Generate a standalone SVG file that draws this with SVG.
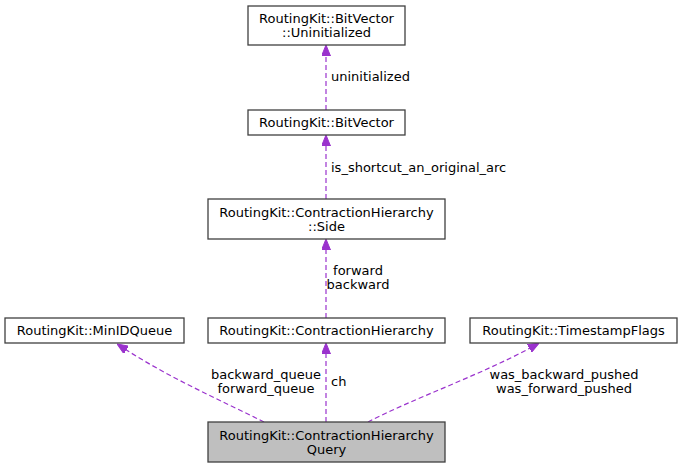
<svg xmlns="http://www.w3.org/2000/svg" width="681" height="468" viewBox="0 0 681 468">
<style>
.box{fill:#ffffff;stroke:#404040;stroke-width:1.3}
.sel{fill:#bfbfbf;stroke:#404040;stroke-width:1.3}
text{font-family:"DejaVu Sans",sans-serif;font-size:13px;fill:#000}
.c{text-anchor:middle}
.e{fill:none;stroke:#9a32cd;stroke-width:1.2;stroke-dasharray:5,3}
</style>
<defs>
<marker id="ah" viewBox="0 0 11 9" refX="0" refY="4.5" markerWidth="11" markerHeight="9" markerUnits="userSpaceOnUse" orient="auto">
<path d="M0,0 L11,4.5 L0,9 z" fill="#9a32cd" stroke="#9a32cd"/>
</marker>
</defs>
<g id="connectors">
<path class="e" d="M326,110 L326,56" marker-end="url(#ah)"/>
<text x="331" y="81">uninitialized</text>
<path class="e" d="M326,199 L326,146" marker-end="url(#ah)"/>
<text x="331" y="172">is_shortcut_an_original_arc</text>
<path class="e" d="M326,318 L326,250" marker-end="url(#ah)"/>
<text class="c" x="358" y="275">forward</text>
<text class="c" x="358" y="289">backward</text>
<path class="e" d="M264,422 C220,400 170,378 126.3,349.9" marker-end="url(#ah)"/>
<text class="c" x="266" y="379">backward_queue</text>
<text class="c" x="266" y="393">forward_queue</text>
<path class="e" d="M326,422 L326,354" marker-end="url(#ah)"/>
<text x="331" y="386">ch</text>
<path class="e" d="M368,422 C410,400 480,375 529.4,348.4" marker-end="url(#ah)"/>
<text class="c" x="564" y="379">was_backward_pushed</text>
<text class="c" x="564" y="393">was_forward_pushed</text>
</g>
<g id="uninitialized">
<rect class="box" x="248" y="6" width="157" height="39"/>
<text class="c" x="326.5" y="23">RoutingKit::BitVector</text>
<text class="c" x="326.5" y="37">::Uninitialized</text>
</g>
<g id="bitvector">
<rect class="box" x="248" y="110" width="157" height="25"/>
<text class="c" x="326.5" y="127">RoutingKit::BitVector</text>
</g>
<g id="side">
<rect class="box" x="208" y="199" width="237" height="40"/>
<text class="c" x="326.5" y="217">RoutingKit::ContractionHierarchy</text>
<text class="c" x="326.5" y="231">::Side</text>
</g>
<g id="minidqueue">
<rect class="box" x="5" y="318" width="179" height="25"/>
<text class="c" x="94.5" y="335">RoutingKit::MinIDQueue</text>
</g>
<g id="ch">
<rect class="box" x="208" y="318" width="237" height="25"/>
<text class="c" x="326.5" y="335">RoutingKit::ContractionHierarchy</text>
</g>
<g id="timestampflags">
<rect class="box" x="470" y="318" width="207" height="25"/>
<text class="c" x="573.5" y="335">RoutingKit::TimestampFlags</text>
</g>
<g id="query">
<rect class="sel" x="208" y="422" width="237" height="40"/>
<text class="c" x="326.5" y="440">RoutingKit::ContractionHierarchy</text>
<text class="c" x="326.5" y="454">Query</text>
</g>
</svg>
